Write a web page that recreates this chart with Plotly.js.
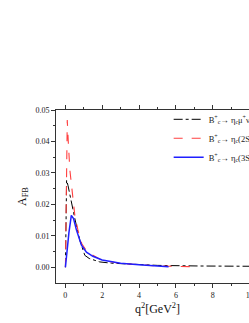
<!DOCTYPE html>
<html><head><meta charset="utf-8">
<script src="https://cdn.plot.ly/plotly-3.0.1.min.js"></script>
<style>html,body{margin:0;padding:0;overflow:hidden;background:#fff;width:249px;height:323px}</style>
</head><body><div id="chart"></div>
<script>
const qEtac = [0.011, 0.03, 0.075, 0.15, 0.34, 0.52, 0.79, 1.06, 1.3, 1.87, 2.5, 3.68, 5, 7.3, 10.8];
const afbEtac = [0, 0.018, 0.0277, 0.026, 0.0203, 0.0155, 0.0086, 0.0038, 0.0028, 0.0017, 0.0013, 0.0009, 0.0006, 0.0004, 0.0003];
const qEtac2S = [0.011, 0.05, 0.11, 0.17, 0.25, 0.43, 0.52, 0.7, 0.9, 1.2, 2, 3, 4, 5, 6.9];
const afbEtac2S = [0, 0.03, 0.0468, 0.0394, 0.031, 0.0213, 0.0166, 0.0115, 0.0075, 0.0048, 0.0022, 0.0012, 0.0007, 0.0004, 0.0002];
const qEtac3S = [0.011, 0.1, 0.2, 0.33, 0.45, 0.61, 0.88, 1.15, 1.5, 2, 3, 4, 5, 5.6];
const afbEtac3S = [0, 0.006, 0.011, 0.0165, 0.0155, 0.0118, 0.007, 0.0048, 0.0035, 0.0023, 0.0013, 0.0008, 0.0004, 0.0002];
const names = [
  'B<sup>+</sup><sub>c</sub>→ η<sub>c</sub>μ<sup>+</sup>ν<sub>μ</sub>',
  'B<sup>+</sup><sub>c</sub>→ η<sub>c</sub>(2S)μ<sup>+</sup>ν<sub>μ</sub>',
  'B<sup>+</sup><sub>c</sub>→ η<sub>c</sub>(3S)μ<sup>+</sup>ν<sub>μ</sub>'
];
const serif = 'Liberation Serif, Times New Roman, serif';
const traces = [
  {x: qEtac, y: afbEtac, name: names[0], mode: 'lines', line: {color: '#000', dash: 'dashdot', width: 1}},
  {x: qEtac2S, y: afbEtac2S, name: names[1], mode: 'lines', line: {color: '#ff4040', dash: 'dash', width: 1.1}},
  {x: qEtac3S, y: afbEtac3S, name: names[2], mode: 'lines', line: {color: '#1f1fff', width: 1.5}}
];
const axisCommon = {showgrid: false, zeroline: false, showline: true, linecolor: '#333', linewidth: 1,
  ticks: 'outside', ticklen: 4, tickcolor: '#333', mirror: 'ticks',
  tickfont: {family: serif, size: 8, color: '#222'}};
const layout = {
  width: 265, height: 323,
  margin: {l: 56, r: 5.5, t: 110, b: 40.3, autoexpand: false},
  paper_bgcolor: '#fff', plot_bgcolor: '#fff',
  showlegend: true,
  legend: {x: 0.555, y: 1.03, xanchor: 'left', yanchor: 'top', bgcolor: 'rgba(0,0,0,0)',
    font: {family: serif, size: 8.5, color: '#222'}, tracegroupgap: 0, itemwidth: 30},
  xaxis: Object.assign({}, axisCommon, {range: [-0.5, 10.5], tickvals: [0, 2, 4, 6, 8, 10],
    minor: {tickvals: [1, 3, 5, 7, 9], ticks: 'outside', ticklen: 2, tickcolor: '#333'},
    title: {text: 'q<sup>2</sup>[GeV<sup>2</sup>]', font: {family: serif, size: 12, color: '#111'}, standoff: 6}}),
  yaxis: Object.assign({}, axisCommon, {range: [-0.005, 0.05], tickvals: [0, 0.01, 0.02, 0.03, 0.04, 0.05],
    ticktext: ['0.00', '0.01', '0.02', '0.03', '0.04', '0.05'],
    minor: {tickvals: [0.005, 0.015, 0.025, 0.035, 0.045], ticks: 'outside', ticklen: 2, tickcolor: '#333'},
    title: {text: 'A<sub>FB</sub>', font: {family: serif, size: 12, color: '#111'}, standoff: 6}})
};
Plotly.newPlot('chart', traces, layout, {displayModeBar: false, staticPlot: true});
</script></body></html>
